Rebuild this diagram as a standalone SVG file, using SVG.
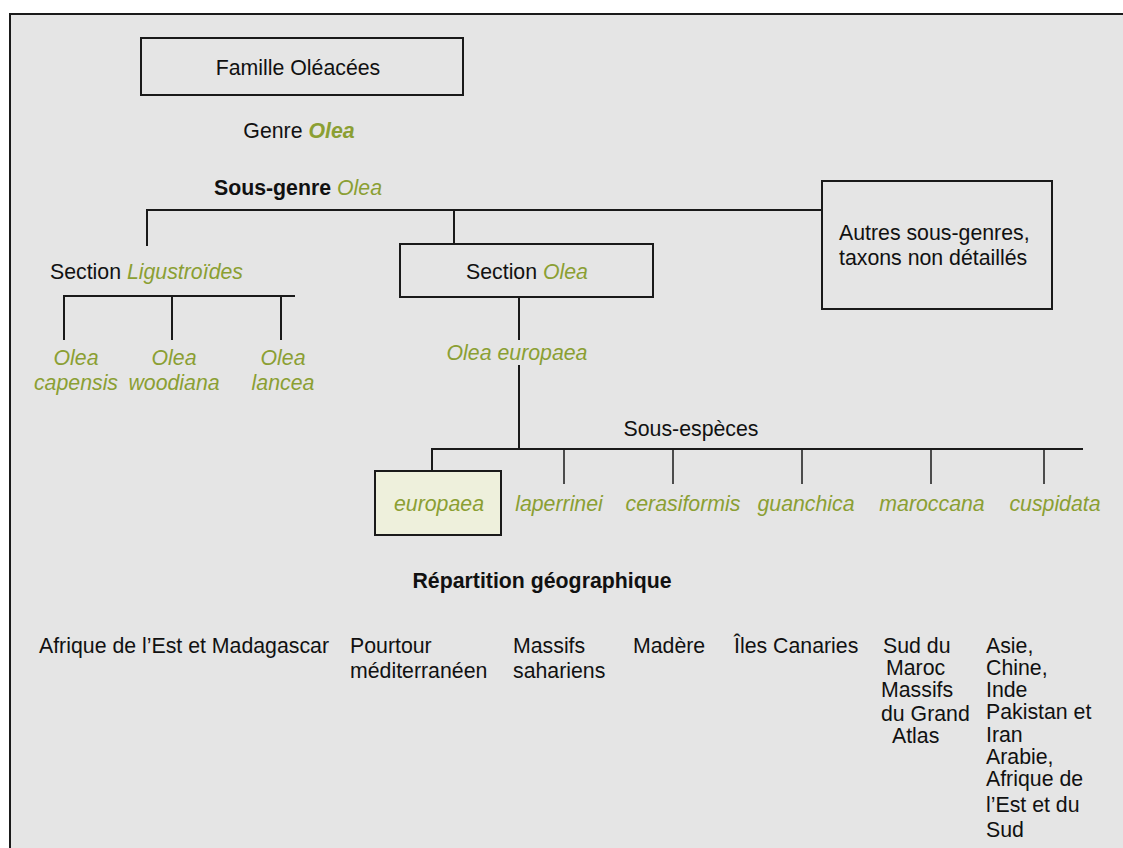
<svg xmlns="http://www.w3.org/2000/svg" width="1123" height="848" viewBox="0 0 1123 848">
<style>
text{font-family:"Liberation Sans",Arial,sans-serif;font-size:21.3px;fill:#111}
.g{fill:#8b9f33;font-style:italic}
.b{font-weight:bold}
.c{text-anchor:middle}
.box{fill:none;stroke:#1a1a1a;stroke-width:2}
.ln{stroke:#1a1a1a;stroke-width:2;fill:none}
.ln1{stroke:#1a1a1a;stroke-width:1.5;fill:none}
</style>
<rect x="0" y="0" width="1123" height="848" fill="#ffffff"/>
<rect x="10" y="14" width="1130" height="850" fill="#e5e5e5" stroke="#1a1a1a" stroke-width="2"/>
<g id="connectors">
<path class="ln" d="M147,246 V210 H822 M454,210 V244"/>
<path class="ln" d="M64,340 V296 H295 M172,296 V340 M281,296 V340"/>
<path class="ln" d="M519,297 V340 M519,365 V449"/>
<path class="ln" d="M432,471 V449 H1083"/>
<path class="ln1" d="M564,449 V484 M673,449 V484 M802,449 V484 M931,449 V484 M1044,449 V484"/>
</g>
<g id="famille"><rect class="box" x="141" y="38" width="322" height="57"/><text class="c" x="298" y="75">Famille Oléacées</text></g>
<g id="genre"><text class="c" x="299" y="138">Genre <tspan class="g b">Olea</tspan></text></g>
<g id="sous-genre"><text class="c" x="298" y="195"><tspan class="b">Sous-genre</tspan> <tspan class="g">Olea</tspan></text></g>
<g id="autres"><rect class="box" x="822" y="181" width="230" height="128"/><text x="839" y="240">Autres sous-genres,</text><text x="839" y="265">taxons non détaillés</text></g>
<g id="section-ligustroides"><text x="50" y="279">Section <tspan class="g">Ligustroïdes</tspan></text></g>
<g id="section-olea"><rect class="box" x="400" y="244" width="253" height="53"/><text class="c" x="527" y="279">Section <tspan class="g">Olea</tspan></text></g>
<g id="capensis"><text class="g c" x="76" y="365">Olea</text><text class="g c" x="76" y="390">capensis</text></g>
<g id="woodiana"><text class="g c" x="174" y="365">Olea</text><text class="g c" x="174" y="390">woodiana</text></g>
<g id="lancea"><text class="g c" x="283" y="365">Olea</text><text class="g c" x="283" y="390">lancea</text></g>
<g id="olea-europaea"><text class="g c" x="517" y="360">Olea europaea</text></g>
<g id="sous-especes"><text class="c" x="691" y="436">Sous-espèces</text></g>
<g id="europaea"><rect x="375" y="471" width="126" height="64" fill="#eef0dc" stroke="#1a1a1a" stroke-width="2"/><text class="g c" x="439" y="511">europaea</text></g>
<g id="laperrinei"><text class="g c" x="559" y="511">laperrinei</text></g>
<g id="cerasiformis"><text class="g c" x="683" y="511">cerasiformis</text></g>
<g id="guanchica"><text class="g c" x="806" y="511">guanchica</text></g>
<g id="maroccana"><text class="g c" x="932" y="511">maroccana</text></g>
<g id="cuspidata"><text class="g c" x="1055" y="511">cuspidata</text></g>
<g id="repartition"><text class="b c" x="542" y="588">Répartition géographique</text></g>
<g id="geo-1"><text x="39" y="653">Afrique de l’Est et Madagascar</text></g>
<g id="geo-2"><text x="350" y="653">Pourtour</text><text x="350" y="678">méditerranéen</text></g>
<g id="geo-3"><text x="513" y="653">Massifs</text><text x="513" y="678">sahariens</text></g>
<g id="geo-4"><text x="633" y="653">Madère</text></g>
<g id="geo-5"><text x="734" y="653">Îles Canaries</text></g>
<g id="geo-6"><text x="883" y="653">Sud du</text><text x="886" y="675">Maroc</text><text x="881" y="697">Massifs</text><text x="881" y="721">du Grand</text><text x="892" y="743">Atlas</text></g>
<g id="geo-7"><text x="986" y="653">Asie,</text><text x="986" y="675">Chine,</text><text x="986" y="697">Inde</text><text x="986" y="719">Pakistan et</text><text x="986" y="742">Iran</text><text x="986" y="764">Arabie,</text><text x="986" y="786">Afrique de</text><text x="986" y="812">l’Est et du</text><text x="986" y="837">Sud</text></g>
</svg>
